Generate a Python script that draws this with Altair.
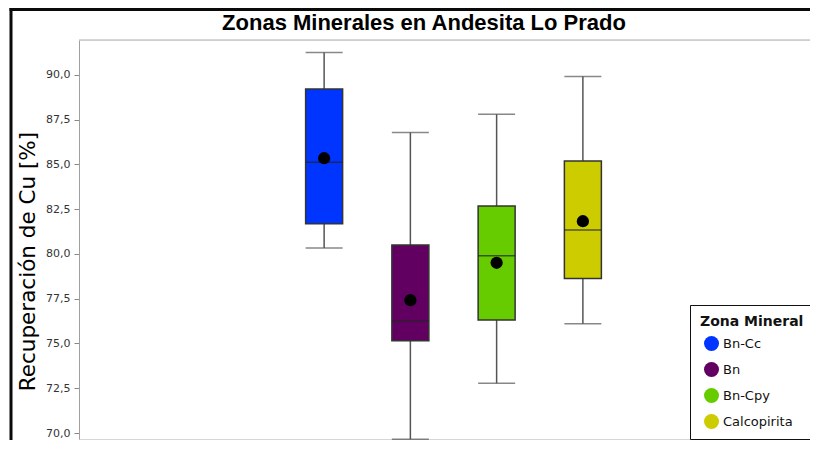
import altair as alt
import pandas as pd

zonas = ["Bn-Cc", "Bn", "Bn-Cpy", "Calcopirita"]
bigote_sup = [91.26, 86.78, 87.80, 89.91]
q3 = [89.21, 80.50, 82.68, 85.20]
mediana = [85.13, 76.25, 79.90, 81.34]
media = [85.35, 77.42, 79.51, 81.83]
q1 = [81.69, 75.15, 76.31, 78.63]
bigote_inf = [80.34, 69.65, 72.78, 76.10]
colores = ["#0035ff", "#620062", "#66cc00", "#cccc00"]
ticks_y = [70.0, 72.5, 75.0, 77.5, 80.0, 82.5, 85.0, 87.5, 90.0]
titulo = "Zonas Minerales en Andesita Lo Prado"

df = pd.DataFrame({
    "zona": zonas, "hi": bigote_sup, "q3": q3, "med": mediana,
    "mean": media, "q1": q1, "lo": bigote_inf,
})

W, H = 731, 400
ydom = [70 - (H - 393) / 17.92, 90 + 35 / 17.92]

xs = alt.X("zona:N", scale=alt.Scale(domain=zonas, range=[202, 547], paddingInner=0, paddingOuter=0), axis=None)
yscale = alt.Scale(domain=ydom, nice=False, zero=False)

base = alt.Chart(df)

whisk = base.mark_rule(color="#555555", strokeWidth=1.5).encode(
    x=xs,
    y=alt.Y("lo:Q", scale=yscale, title="Recuperación de Cu [%]",
            axis=alt.Axis(values=ticks_y, labelExpr="replace(format(datum.value, '.1f'), '.', ',')",
                          grid=False, domainColor="#a0a0a0", tickColor="#888888", tickSize=5,
                          labelPadding=4, labelFont="DejaVu Sans", labelFontSize=11, labelColor="#333333",
                          titleFont="DejaVu Sans", titleFontSize=21.5, titleFontWeight="normal",
                          titleColor="black", titleAngle=270, titleX=-45, titleY=221,
                          titleAlign="center", titleBaseline="alphabetic")),
    y2="hi:Q",
)
cap_hi = base.mark_tick(size=37, thickness=1.5, color="#555555").encode(x=xs, y=alt.Y("hi:Q", scale=yscale))
cap_lo = base.mark_tick(size=37, thickness=1.5, color="#555555").encode(x=xs, y=alt.Y("lo:Q", scale=yscale))
box = base.mark_bar(width=37, stroke="#333333", strokeWidth=1.5, opacity=1).encode(
    x=xs,
    y=alt.Y("q1:Q", scale=yscale),
    y2="q3:Q",
    color=alt.Color("zona:N", scale=alt.Scale(domain=zonas, range=colores),
                    legend=alt.Legend(orient="none", legendX=611, legendY=265, title="Zona Mineral",
                                      titleFont="DejaVu Sans", titleFontSize=14, titleFontWeight="bold",
                                      titleColor="#111111", labelFont="DejaVu Sans", labelFontSize=13,
                                      labelColor="#111111", symbolType="circle", symbolSize=225,
                                      symbolStrokeWidth=0, symbolOpacity=1, padding=10, titlePadding=7,
                                      rowPadding=11, symbolOffset=4, labelOffset=4,
                                      strokeColor="#111111", fillColor="white")),
)
med = base.mark_tick(size=37, thickness=1.5, color="#222222").encode(x=xs, y=alt.Y("med:Q", scale=yscale))
mean = base.mark_circle(size=150, color="black", opacity=1).encode(x=xs, y=alt.Y("mean:Q", scale=yscale))

one = alt.Chart(pd.DataFrame({"k": [0]}))
top_line = one.mark_rule(color="#c8c8c8", strokeWidth=1.5).encode(x=alt.value(0), x2=alt.value(W), y=alt.value(0))
bot_line = one.mark_rule(color="#c8c8c8", strokeWidth=1.5).encode(x=alt.value(0), x2=alt.value(W), y=alt.value(H))
frame_left = one.mark_rule(color="#0a0a0a", strokeWidth=3).encode(x=alt.value(-68), y=alt.value(-32), y2=alt.value(H))
frame_top = one.mark_rule(color="#0a0a0a", strokeWidth=3).encode(x=alt.value(-69.5), x2=alt.value(W), y=alt.value(-30.5))
title_txt = one.mark_text(font="Liberation Sans", fontSize=22, fontWeight="bold", color="black",
                          align="center", baseline="alphabetic").encode(
    x=alt.value(345), y=alt.value(-10), text=alt.value(titulo))

chart = alt.layer(top_line, bot_line, frame_left, frame_top, title_txt, whisk, cap_hi, cap_lo, box, med, mean).properties(
    width=W, height=H,
    autosize=alt.AutoSizeParams(type="none"),
    padding={"left": 71, "top": 32, "right": 0, "bottom": 0},
).configure_view(stroke=None).configure_legend(
    strokeWidth=2
).configure(background="white")

chart.save("out.html", embed_options={"renderer": "svg", "actions": False})
